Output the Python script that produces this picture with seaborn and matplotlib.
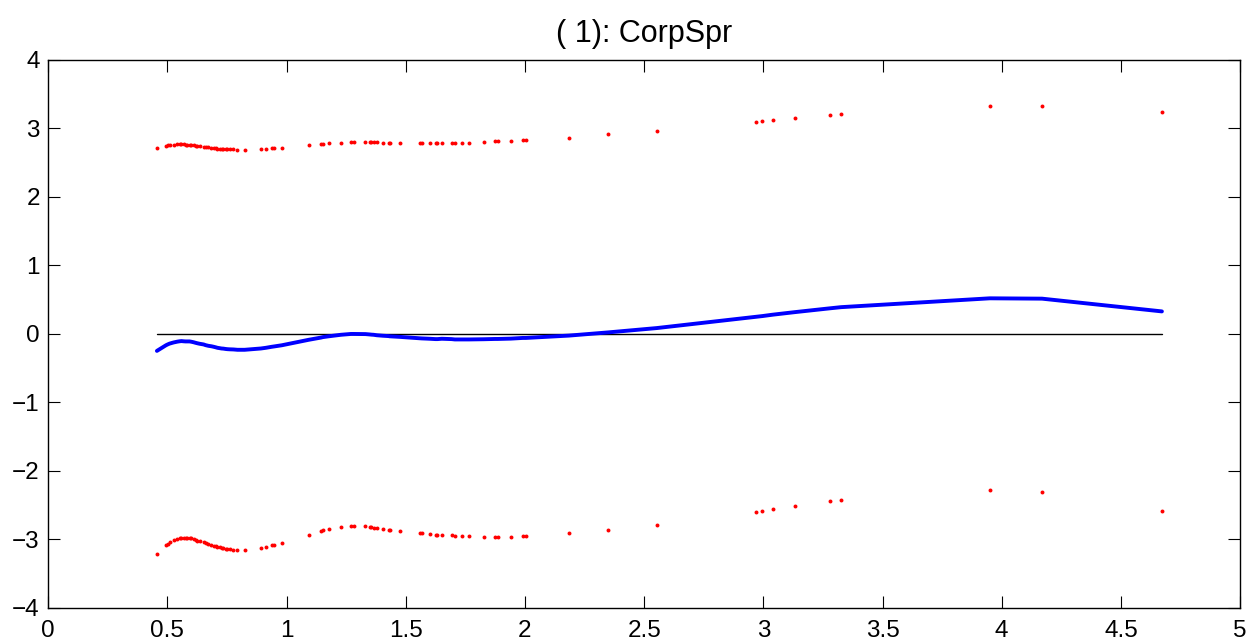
import numpy as np
import pandas as pd
import matplotlib
matplotlib.use("Agg")
import matplotlib.pyplot as plt
import seaborn as sns

title = "( 1): CorpSpr"

x_vals = [0.456, 0.494, 0.501, 0.509, 0.526, 0.542, 0.551, 0.559, 0.568, 0.576,
          0.584, 0.593, 0.601, 0.610, 0.618, 0.626, 0.635, 0.652, 0.660, 0.672,
          0.685, 0.694, 0.702, 0.710, 0.719, 0.727, 0.735, 0.744, 0.752, 0.761,
          0.777, 0.794, 0.824, 0.892, 0.913, 0.938, 0.948, 0.980, 1.093, 1.144,
          1.152, 1.177, 1.228, 1.270, 1.281, 1.331, 1.348, 1.356, 1.365, 1.379,
          1.404, 1.428, 1.432, 1.477, 1.558, 1.567, 1.600, 1.625, 1.633, 1.651,
          1.692, 1.706, 1.737, 1.765, 1.827, 1.874, 1.885, 1.941, 1.991, 2.004,
          2.184, 2.350, 2.553, 2.968, 2.996, 3.039, 3.131, 3.279, 3.326, 3.950,
          4.169, 4.672]

upper_band = [2.710, 2.744, 2.749, 2.753, 2.758, 2.763, 2.768, 2.768, 2.763, 2.758,
              2.758, 2.758, 2.753, 2.749, 2.744, 2.739, 2.734, 2.729, 2.724, 2.719,
              2.715, 2.710, 2.705, 2.700, 2.695, 2.695, 2.695, 2.690, 2.690, 2.690,
              2.690, 2.685, 2.685, 2.695, 2.695, 2.705, 2.705, 2.715, 2.753, 2.768,
              2.773, 2.778, 2.788, 2.797, 2.797, 2.797, 2.797, 2.797, 2.797, 2.792,
              2.788, 2.788, 2.788, 2.788, 2.778, 2.778, 2.778, 2.778, 2.778, 2.788,
              2.788, 2.788, 2.788, 2.788, 2.797, 2.807, 2.807, 2.817, 2.826, 2.826,
              2.861, 2.909, 2.958, 3.095, 3.099, 3.119, 3.148, 3.187, 3.202, 3.319,
              3.329, 3.235]

lower_band = [-3.211, -3.080, -3.060, -3.041, -3.012, -2.992, -2.987, -2.982, -2.982, -2.982,
              -2.982, -2.982, -2.987, -2.997, -3.007, -3.017, -3.026, -3.041, -3.056, -3.070,
              -3.080, -3.090, -3.099, -3.109, -3.114, -3.124, -3.129, -3.134, -3.139, -3.143,
              -3.148, -3.153, -3.153, -3.124, -3.104, -3.085, -3.075, -3.051, -2.929, -2.880,
              -2.870, -2.851, -2.817, -2.802, -2.802, -2.807, -2.817, -2.822, -2.827, -2.836,
              -2.846, -2.856, -2.861, -2.880, -2.909, -2.914, -2.924, -2.934, -2.934, -2.934,
              -2.943, -2.953, -2.953, -2.953, -2.958, -2.958, -2.958, -2.958, -2.948, -2.948,
              -2.914, -2.870, -2.792, -2.602, -2.583, -2.563, -2.519, -2.446, -2.427, -2.285,
              -2.306, -2.583]

estimate = [-0.250, -0.168, -0.156, -0.144, -0.127, -0.115, -0.110, -0.107, -0.110, -0.112,
            -0.112, -0.112, -0.117, -0.124, -0.132, -0.139, -0.146, -0.156, -0.166, -0.176,
            -0.183, -0.190, -0.197, -0.205, -0.210, -0.215, -0.217, -0.222, -0.225, -0.227,
            -0.229, -0.234, -0.234, -0.215, -0.205, -0.190, -0.185, -0.168, -0.088, -0.056,
            -0.049, -0.037, -0.015, -0.003, -0.003, -0.005, -0.010, -0.013, -0.015, -0.022,
            -0.029, -0.034, -0.037, -0.046, -0.066, -0.068, -0.073, -0.078, -0.078, -0.073,
            -0.078, -0.083, -0.083, -0.083, -0.080, -0.076, -0.076, -0.071, -0.061, -0.061,
            -0.027, 0.020, 0.083, 0.247, 0.258, 0.278, 0.315, 0.371, 0.388, 0.517,
            0.512, 0.326]

x_ticks = [0, 0.5, 1, 1.5, 2, 2.5, 3, 3.5, 4, 4.5, 5]
x_tick_labels = ["0", "0.5", "1", "1.5", "2", "2.5", "3", "3.5", "4", "4.5", "5"]
y_ticks = [-4, -3, -2, -1, 0, 1, 2, 3, 4]
y_tick_labels = ["\u22124", "\u22123", "\u22122", "\u22121", "0", "1", "2", "3", "4"]

sns.set_style("ticks")
plt.rcParams['font.family'] = ['Liberation Sans', 'DejaVu Sans']
plt.rcParams['xtick.direction'] = 'in'
plt.rcParams['ytick.direction'] = 'in'
plt.rcParams['text.color'] = 'black'

df = pd.DataFrame({"x": x_vals, "upper": upper_band, "lower": lower_band, "est": estimate})
zero_df = pd.DataFrame({"x": [x_vals[0], x_vals[-1]], "y": [0.0, 0.0]})

fig = plt.figure(figsize=(12.52, 6.44), dpi=100)
ax = fig.add_axes([0.0385, 0.0560, 0.9520, 0.8515])

sns.lineplot(data=zero_df, x="x", y="y", color="black", linewidth=1.0, ax=ax,
             estimator=None, sort=False)
sns.lineplot(data=df, x="x", y="est", color="#0000ff", linewidth=2.8, ax=ax,
             estimator=None, sort=False)
sns.scatterplot(data=df, x="x", y="upper", color="#ff0000", s=8, linewidth=0, ax=ax)
sns.scatterplot(data=df, x="x", y="lower", color="#ff0000", s=8, linewidth=0, ax=ax)

ax.set_xlim(0, 5)
ax.set_ylim(-4, 4)
ax.set_xticks(x_ticks)
ax.set_xticklabels(x_tick_labels)
ax.set_yticks(y_ticks)
ax.set_yticklabels(y_tick_labels)
ax.set_xlabel("")
ax.set_ylabel("")
ax.tick_params(axis='both', which='both', direction='in', length=8.5, width=0.8,
               labelsize=17.5, top=True, right=True, colors='black', labelcolor='black')
ax.tick_params(axis='x', pad=9)
ax.tick_params(axis='y', pad=6)
for sp in ax.spines.values():
    sp.set_visible(True)
    sp.set_linewidth(1.0)
    sp.set_color('black')
ax.set_title(title, fontsize=22, pad=13, color='black')

fig.savefig("out.png", dpi=100)
